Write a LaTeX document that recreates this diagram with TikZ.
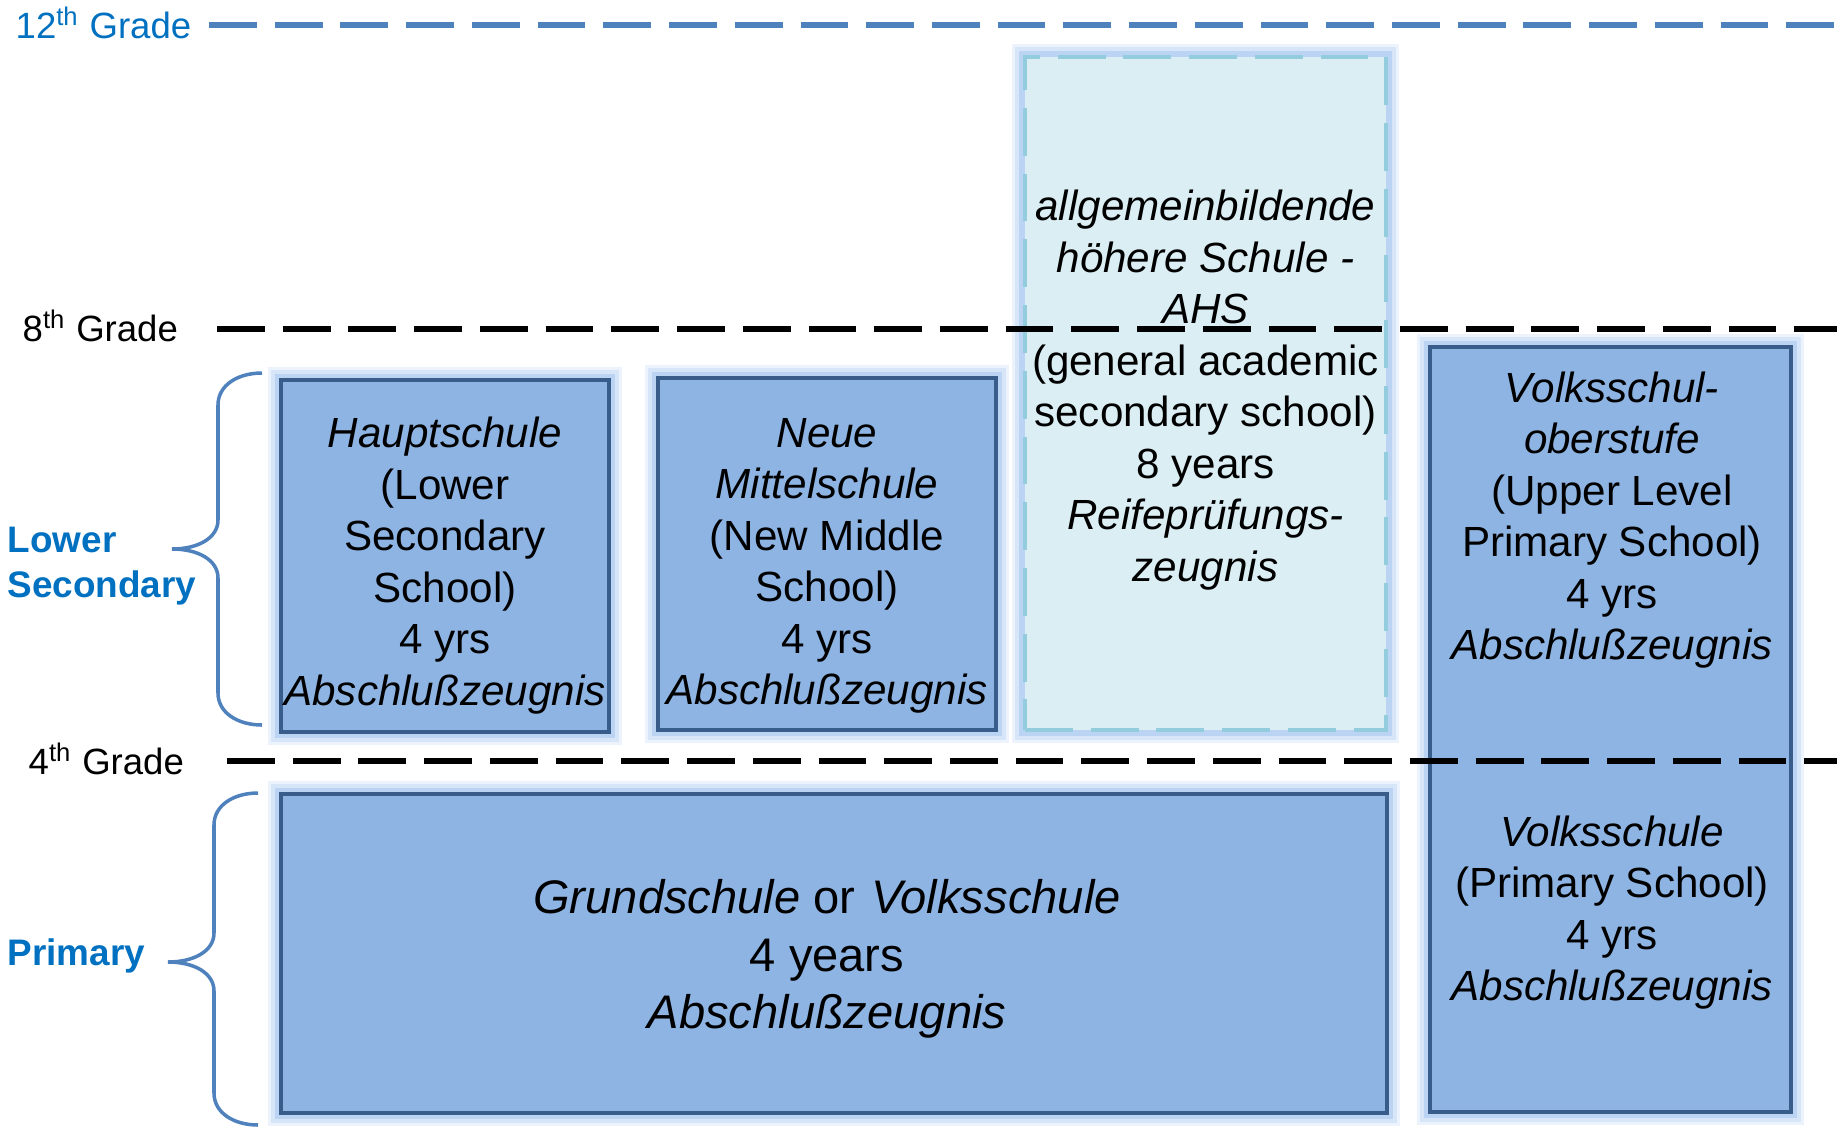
\documentclass[tikz,border=0pt]{standalone}
\usepackage{fontspec}
\setmainfont{Liberation Sans}
\usepackage{tikz}
\usepackage{xcolor}

\begin{document}
\begin{tikzpicture}[x=0.1mm,y=-0.1mm,
  schoolbox/.style={rectangle,draw=boxline,line width=1.4pt,fill=boxfill,inner sep=0pt,
    preaction={draw=glowblue,solid,line width=7.5pt,opacity=.2},
    preaction={draw=glowblue,solid,line width=5.5pt,opacity=.3},
    preaction={draw=glowblue,solid,line width=3.5pt,opacity=.5}},
  ahsbox/.style={schoolbox,fill=ahsfill,draw=ahsline,dash pattern=on 13.6pt off 5.1pt},
  boxtext/.style={align=center,inner sep=0pt,font=\fontsize{12}{14.65}\selectfont},
  gradelabel/.style={anchor=base west,inner sep=0pt,font=\fontsize{10.4}{12.5}\selectfont},
  stagelabel/.style={align=left,inner sep=0pt,text=stageblue,font=\bfseries\fontsize{10.5}{12.8}\selectfont},
  gradeline/.style={line width=1.7pt,dash pattern=on 13.6pt off 5.1pt},
  bracestyle/.style={draw=lineblue,line width=1pt}]
\definecolor{boxfill}{HTML}{8EB4E3}
\definecolor{boxline}{HTML}{385D8A}
\definecolor{glowblue}{HTML}{A2C4EE}
\definecolor{ahsfill}{HTML}{DBEEF4}
\definecolor{ahsline}{HTML}{93CDDD}
\definecolor{lineblue}{HTML}{4F81BD}
\definecolor{stageblue}{HTML}{0070C0}
\useasboundingbox (0,0) rectangle (1837,1127);

% schools
\node[schoolbox,minimum width=32.8mm,minimum height=35.2mm] (haupt) at (445,556) {};
\node[schoolbox,minimum width=33.8mm,minimum height=35.2mm] (neue) at (827,554) {};
\node[ahsbox,minimum width=36.1mm,minimum height=67.3mm] (ahs) at (1205.5,393.5) {};
\node[schoolbox,minimum width=36.1mm,minimum height=76.5mm] (volks) at (1610.5,729.5) {};
\node[schoolbox,minimum width=110.6mm,minimum height=31.9mm] (grund) at (834,953.5) {};

\node[boxtext] (hauptText) at (445,565.5)
  {\textit{Hauptschule}\\(Lower\\Secondary\\School)\\4 yrs\\\textit{Abschlußzeugnis}};
\node[boxtext] (neueText) at (827,566)
  {\textit{Neue}\\\textit{Mittelschule}\\(New Middle\\School)\\4 yrs\\\textit{Abschlußzeugnis}};
\node[boxtext] (ahsText) at (1205.5,390)
  {\textit{allgemeinbildende}\\\textit{höhere Schule -}\\\textit{AHS}\\(general academic\\secondary school)\\8 years\\\textit{Reifeprüfungs-}\\\textit{zeugnis}};
\node[boxtext] (oberstufeText) at (1612,520)
  {\textit{Volksschul-}\\\textit{oberstufe}\\(Upper Level\\Primary School)\\4 yrs\\\textit{Abschlußzeugnis}};
\node[boxtext] (volksText) at (1612,912.5)
  {\textit{Volksschule}\\(Primary School)\\4 yrs\\\textit{Abschlußzeugnis}};
\node[boxtext,font=\fontsize{13.4}{16.4}\selectfont] (grundText) at (827,959)
  {\textit{Grundschule} or\hspace{4.5pt}\textit{Volksschule}\\4 years\\\textit{Abschlußzeugnis}};

% grade lines
\node[gradelabel,text=stageblue] (g12) at (15,38) {12\textsuperscript{th} Grade};
\node[gradelabel] (g8) at (22,341) {8\textsuperscript{th} Grade};
\node[gradelabel] (g4) at (28,774) {4\textsuperscript{th} Grade};
\draw[gradeline,line width=1.5pt,lineblue] (209,25) -- (1837,25);
\draw[gradeline] (217,329) -- (1837,329);
\draw[gradeline] (227,761) -- (1837,761);

% stages
\node[stagelabel,anchor=west] (lowsec) at (7,566) {Lower\\Secondary};
\node[stagelabel,anchor=base west] (prim) at (7,965) {Primary};
\foreach \xr/\top/\tip/\bot in {262/373/549/725,258/793/962/1125}
  \draw[bracestyle] (\xr,\top) .. controls ({\xr-24},\top) and ({\xr-44},{\top+12}) .. ({\xr-44},{\top+32})
    -- ({\xr-44},{\tip-29}) .. controls ({\xr-44},{\tip-11}) and ({\xr-64},\tip) .. ({\xr-90},\tip)
    .. controls ({\xr-64},\tip) and ({\xr-44},{\tip+11}) .. ({\xr-44},{\tip+29})
    -- ({\xr-44},{\bot-32}) .. controls ({\xr-44},{\bot-12}) and ({\xr-24},\bot) .. (\xr,\bot);
\end{tikzpicture}
\end{document}
